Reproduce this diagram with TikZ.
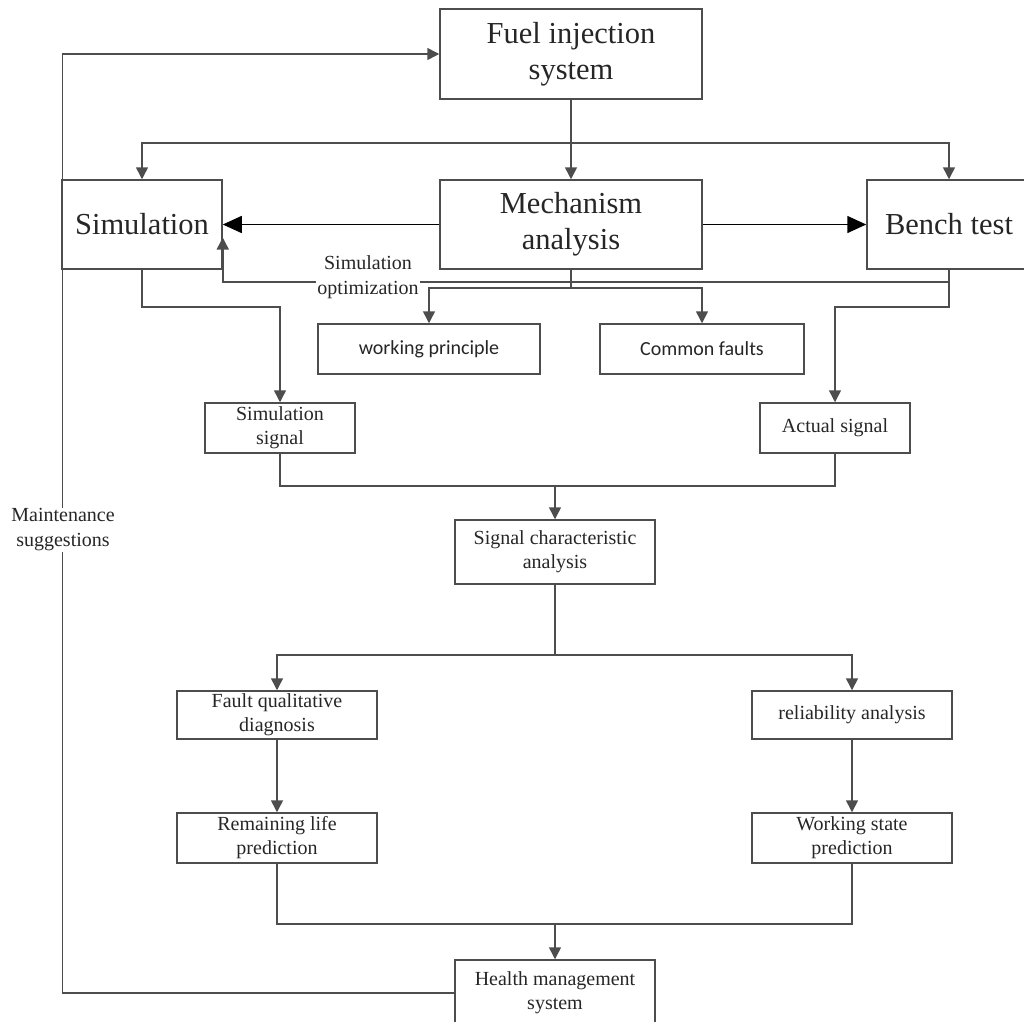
\documentclass[tikz,border=0pt]{standalone}
\usepackage{fontspec}
\setmainfont{Liberation Serif}
\newfontfamily\calib{Carlito}
\usetikzlibrary{arrows.meta}
\definecolor{linegray}{HTML}{4D4D4D}

\begin{document}
\begin{tikzpicture}[x=1pt,y=-1pt,
		box/.style={draw=linegray,line width=1.5pt,inner sep=0pt,align=center,text=black!85},
		big/.style={box,font=\fontsize{30.5}{36}\selectfont},
		small/.style={box,font=\fontsize{20}{24}\selectfont},
		sans/.style={box,font=\calib\fontsize{20}{24}\selectfont},
		ln/.style={draw=linegray,line width=1.5pt},
		arr/.style={ln,-{Triangle[width=12pt,length=12pt]}},
		bigarr/.style={draw=black,line width=1.5pt,-{Triangle[width=17pt,length=19pt]}},
		lbl/.style={fill=white,inner sep=1pt,align=center,text=black!85,font=\fontsize{20}{25}\selectfont}]
		\useasboundingbox (0,0) rectangle (1024,1021);
		\node[big,minimum width=262pt,minimum height=90pt] (fuel) at (571,54) {Fuel injection\\system};
		\node[big,minimum width=262pt,minimum height=89pt] (mech) at (571,224.5) {Mechanism\\analysis};
		\node[big,minimum width=160pt,minimum height=89pt] (sim) at (142,224.5) {Simulation};
		\node[big,minimum width=164pt,minimum height=89pt] (bench) at (949,224.5) {Bench test};
		\node[sans,minimum width=222pt,minimum height=50pt] (prin) at (429,349) {working principle};
		\node[sans,minimum width=204pt,minimum height=50pt] (faults) at (702,349) {Common faults};
		\node[small,minimum width=150pt,minimum height=50pt] (simsig) at (280,428) {Simulation\\signal};
		\node[small,minimum width=150pt,minimum height=50pt] (actsig) at (835,428) {Actual signal};
		\node[small,minimum width=200pt,minimum height=64pt] (sca) at (555,552) {Signal characteristic\\analysis};
		\node[small,minimum width=200pt,minimum height=48pt] (fqd) at (277,715) {Fault qualitative\\diagnosis};
		\node[small,minimum width=200pt,minimum height=48pt] (rel) at (852,715) {reliability analysis};
		\node[small,minimum width=200pt,minimum height=50pt] (rlp) at (277,838) {Remaining life\\prediction};
		\node[small,minimum width=200pt,minimum height=50pt] (wsp) at (852,838) {Working state\\prediction};
		\node[small,minimum width=200pt,minimum height=66pt] (hms) at (555,993) {Health management\\system};
		\coordinate (j0) at (571,143);
		\coordinate (j1) at (555,485);
		\coordinate (j3) at (555,923);
		% top part
		\draw[arr] (fuel) to (mech);
		\draw[arr] (j0) -| (sim.north);
		\draw[arr] (j0) -| (bench.north);
		\draw[bigarr] (mech) to (sim);
		\draw[bigarr] (mech) to (bench);
		\draw[arr] (bench.south) -- ++(0,12) -| ([yshift=-13pt]sim.east);
		\node[lbl] (opt) at (368,277) {Simulation\\optimization};
		\draw[ln] (mech.south) -- ++(0,18) coordinate (m1);
		\draw[arr] (m1) -| (prin.north);
		\draw[arr] (m1) -| (faults.north);
		% signals
		\draw[arr] (sim.south) -- ++(0,37) -| (simsig.north);
		\draw[arr] (bench.south) -- ++(0,37) -| (actsig.north);
		\draw[ln] (simsig.south) -- ++(0,32) -| (actsig.south);
		\draw[arr] (j1) to (sca);
		\draw[ln] (sca.south) -- ++(0,70) coordinate (j2);
		\draw[arr] (j2) -| (fqd.north);
		\draw[arr] (j2) -| (rel.north);
		\draw[arr] (fqd) to (rlp);
		\draw[arr] (rel) to (wsp);
		\draw[ln] (rlp.south) -- ++(0,60) -| (wsp.south);
		\draw[arr] (j3) to (hms);
		% feedback
		\draw[arr] (hms.west) -- ++(-392,0) |- (fuel.west);
		\node[lbl] (maint) at (63,530) {Maintenance\\suggestions};
	\end{tikzpicture}
\end{document}
